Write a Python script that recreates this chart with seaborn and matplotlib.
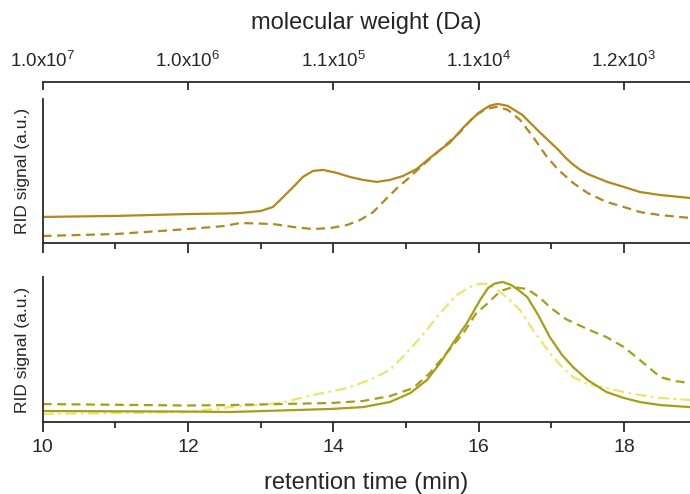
import numpy as np
import pandas as pd
import matplotlib
matplotlib.use("Agg")
import matplotlib.pyplot as plt
import seaborn as sns

# ---- data ----
top_solid_t = [10, 11, 12, 12.5, 12.72, 13.0, 13.17, 13.31, 13.45, 13.58, 13.72, 13.86, 14.05,
               14.23, 14.41, 14.6, 14.78, 14.96, 15.15, 15.33, 15.47, 15.6, 15.8, 16.0, 16.15,
               16.26, 16.4, 16.6, 16.85, 17.1, 17.2, 17.3, 17.4, 17.5, 17.77, 18.0, 18.22, 18.5,
               18.91]
top_solid_v = [0.181, 0.188, 0.201, 0.205, 0.208, 0.222, 0.25, 0.319, 0.389, 0.458, 0.5, 0.507,
               0.486, 0.458, 0.4375, 0.424, 0.4375, 0.465, 0.514, 0.59, 0.646, 0.694, 0.806,
               0.903, 0.951, 0.965, 0.951, 0.889, 0.764, 0.645, 0.59, 0.545, 0.507, 0.479,
               0.424, 0.389, 0.354, 0.333, 0.3125]

top_dash_t = [10, 11, 12, 12.5, 12.72, 13.17, 13.45, 13.72, 13.96, 14.19, 14.37, 14.55, 14.74,
              14.88, 15.01, 15.19, 15.47, 15.75, 15.93, 16.1, 16.25, 16.4, 16.57, 16.75, 16.94,
              17.1, 17.3, 17.5, 17.76, 18.0, 18.22, 18.5, 18.91]
top_dash_v = [0.049, 0.0625, 0.097, 0.118, 0.139, 0.132, 0.111, 0.097, 0.104, 0.125, 0.16,
              0.215, 0.3125, 0.382, 0.4375, 0.521, 0.646, 0.771, 0.875, 0.93, 0.944, 0.924,
              0.854, 0.736, 0.597, 0.507, 0.417, 0.347, 0.285, 0.25, 0.215, 0.194, 0.174]

bot_solid_t = [10, 12, 12.58, 13.96, 14.41, 14.78, 15.06, 15.29, 15.47, 15.65, 15.84, 16.02,
               16.13, 16.22, 16.33, 16.45, 16.55, 16.67, 16.82, 16.98, 17.15, 17.3, 17.5, 17.76,
               18.0, 18.22, 18.5, 18.91]
bot_solid_v = [0.076, 0.072, 0.069, 0.09, 0.103, 0.138, 0.2, 0.29, 0.407, 0.545, 0.683, 0.841,
               0.924, 0.955, 0.966, 0.945, 0.91, 0.862, 0.738, 0.586, 0.462, 0.379, 0.29, 0.207,
               0.166, 0.138, 0.117, 0.103]

bot_dash_t = [10, 12, 12.58, 13.96, 14.41, 14.78, 15.1, 15.33, 15.56, 15.79, 15.97, 16.13, 16.3,
              16.47, 16.67, 16.85, 16.98, 17.2, 17.53, 17.76, 18.0, 18.22, 18.5, 18.7, 18.91]
bot_dash_v = [0.124, 0.114, 0.117, 0.131, 0.145, 0.179, 0.234, 0.338, 0.476, 0.614, 0.752,
              0.821, 0.903, 0.931, 0.917, 0.855, 0.793, 0.71, 0.634, 0.586, 0.517, 0.428, 0.31,
              0.283, 0.269]

bot_dd_t = [10, 11, 12, 12.58, 13.27, 13.72, 14.19, 14.5, 14.78, 15.01, 15.23, 15.47, 15.7,
            15.93, 16.06, 16.15, 16.26, 16.4, 16.57, 16.75, 16.98, 17.15, 17.3, 17.5, 17.76,
            18.0, 18.22, 18.5, 18.91]
bot_dd_v = [0.055, 0.062, 0.069, 0.103, 0.131, 0.186, 0.234, 0.29, 0.359, 0.476, 0.6, 0.752,
            0.876, 0.945, 0.955, 0.948, 0.91, 0.855, 0.772, 0.634, 0.476, 0.379, 0.31, 0.262,
            0.234, 0.207, 0.186, 0.166, 0.152]

x_ticks = [10, 12, 14, 16, 18]
x_minor = [11, 13, 15, 17]
mw_labels = [r"1.0x10$^{7}$", r"1.0x10$^{6}$", r"1.1x10$^{5}$", r"1.1x10$^{4}$", r"1.2x10$^{3}$"]

# ---- style ----
sns.set_style("ticks")
plt.rcParams["font.family"] = ["Liberation Sans", "DejaVu Sans"]
plt.rcParams["mathtext.fontset"] = "custom"
plt.rcParams["mathtext.rm"] = "Liberation Sans"
plt.rcParams["mathtext.it"] = "Liberation Sans"
plt.rcParams["lines.solid_joinstyle"] = "round"
plt.rcParams["lines.dash_joinstyle"] = "round"

C_TOP = "#B5861A"
C_OLIVE = "#A89E16"
C_LIGHT = "#EDE56A"
SPINE = "#2a2a2a"
LW = 1.6

fig = plt.figure(figsize=(6.9, 4.94), dpi=100)
ax1 = fig.add_axes([0.0619, 0.508, 0.9381, 0.292])
ax2 = fig.add_axes([0.0619, 0.1457, 0.9381, 0.2935])

def df(t, v):
    return pd.DataFrame({"t": t, "v": v})

sns.lineplot(data=df(top_solid_t, top_solid_v), x="t", y="v", ax=ax1, color=C_TOP, lw=LW)
sns.lineplot(data=df(top_dash_t, top_dash_v), x="t", y="v", ax=ax1, color=C_TOP, lw=LW,
             linestyle=(0, (4, 2.5)))
sns.lineplot(data=df(bot_dd_t, bot_dd_v), x="t", y="v", ax=ax2, color=C_LIGHT, lw=LW,
             linestyle=(0, (5, 2, 1.2, 2)))
sns.lineplot(data=df(bot_dash_t, bot_dash_v), x="t", y="v", ax=ax2, color=C_OLIVE, lw=LW,
             linestyle=(0, (4, 2.5)))
sns.lineplot(data=df(bot_solid_t, bot_solid_v), x="t", y="v", ax=ax2, color=C_OLIVE, lw=LW)

for ax in (ax1, ax2):
    ax.set_xlim(10, 18.91)
    ax.set_ylim(0, 1)
    ax.set_yticks([])
    ax.set_xticks(x_ticks)
    ax.set_xticks(x_minor, minor=True)
    for s in ("top", "right"):
        ax.spines[s].set_visible(False)
    for s in ("left", "bottom"):
        ax.spines[s].set_linewidth(1.3)
        ax.spines[s].set_color(SPINE)
    ax.tick_params(axis="x", which="major", direction="out", length=7, width=1.3,
                   color=SPINE, labelsize=14, pad=5)
    ax.tick_params(axis="x", which="minor", direction="out", length=4, width=1.3, color=SPINE)
    ax.set_ylabel("RID signal (a.u.)", fontsize=12.5, labelpad=9)

ax1.set_xticklabels([])
ax1.set_xlabel("")
ax2.set_xlabel("retention time (min)", fontsize=17, labelpad=12)

# top molecular weight axis
axt = ax1.twiny()
axt.set_xlim(10, 18.91)
axt.set_xticks(x_ticks)
axt.set_xticklabels(mw_labels)
for s in ("left", "right", "bottom"):
    axt.spines[s].set_visible(False)
axt.spines["top"].set_position(("outward", 12))
axt.spines["top"].set_linewidth(1.3)
axt.spines["top"].set_color(SPINE)
axt.tick_params(axis="x", which="major", direction="in", length=6, width=1.3, color=SPINE,
                labelsize=13.5, pad=8)
axt.set_xlabel("molecular weight (Da)", fontsize=17, labelpad=16)

fig.savefig("out.png", dpi=100)
